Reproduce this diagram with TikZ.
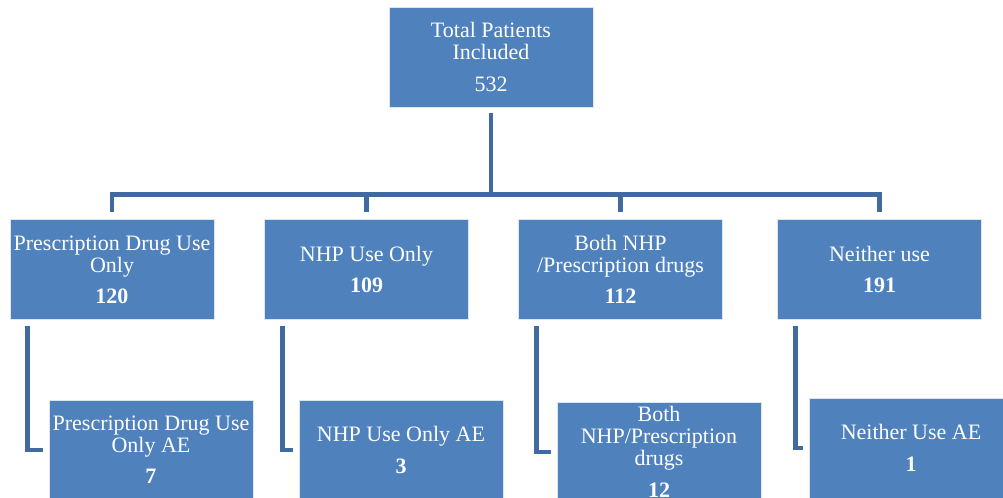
\documentclass[tikz,border=0pt]{standalone}
\usepackage{fontspec}
\setmainfont{Liberation Serif}
\usetikzlibrary{calc}
\definecolor{boxblue}{RGB}{79,129,189}
\definecolor{linkblue}{RGB}{64,106,160}

\begin{document}
\begin{tikzpicture}[x=0.75pt,y=-0.75pt,
    box/.style={fill=boxblue,draw=white!80!boxblue,line width=0.6pt,text=white,
      minimum width=153pt,minimum height=75pt,inner sep=0pt,align=center,
      font=\fontsize{16.5}{16.5}\selectfont},
    link/.style={draw=linkblue,line width=3.7pt}]
      \clip (0,0) rectangle (1003,498);
      \node[box] (total) at (491,57) {Total Patients\\Included\\[8pt]532};
      \node[box] (rx) at (112,269.5) {Prescription Drug Use\\Only\\[7pt]\textbf{120}};
      \node[box] (nhp) at (366.5,269.5) {NHP Use Only\\[7pt]\textbf{109}};
      \node[box] (both) at (620.5,269.5) {Both NHP\\/Prescription drugs\\[7pt]\textbf{112}};
      \node[box] (neither) at (879.5,269.5) {Neither use\\[7pt]\textbf{191}};
      \node[box] (rxae) at (151,450) {Prescription Drug Use\\Only AE\\[7pt]\textbf{7}};
      \node[box] (nhpae) at (401,450) {NHP Use Only AE\\[7pt]\textbf{3}};
      \node[box] (bothae) at (659,452) {Both\\NHP/Prescription\\drugs\\[7pt]\textbf{12}};
      \node[box] (neitherae) at (911,448) {Neither Use AE\\[7pt]\textbf{1}};
      \coordinate (bus) at (491,194.5);
      \draw[link] ($(total.south)+(0,6)$) -- (bus);
      \draw[link] ($(rx.north)+(0,-7)$) |- (bus) -| ($(neither.north)+(0,-7)$);
      \draw[link] ($(nhp.north)+(0,-7)$) -- (bus -| nhp.north);
      \draw[link] ($(both.north)+(0,-7)$) -- (bus -| both.north);
      \draw[link] ($(rx.south west)+(18,6)$) |- ($(rxae.west)+(-6,0)$);
      \draw[link] ($(nhp.south west)+(18,6)$) |- ($(nhpae.west)+(-6,0)$);
      \draw[link] ($(both.south west)+(18,6)$) |- ($(bothae.west)+(-6,0)$);
      \draw[link] ($(neither.south west)+(18,6)$) |- ($(neitherae.west)+(-6,0)$);
\end{tikzpicture}
\end{document}
